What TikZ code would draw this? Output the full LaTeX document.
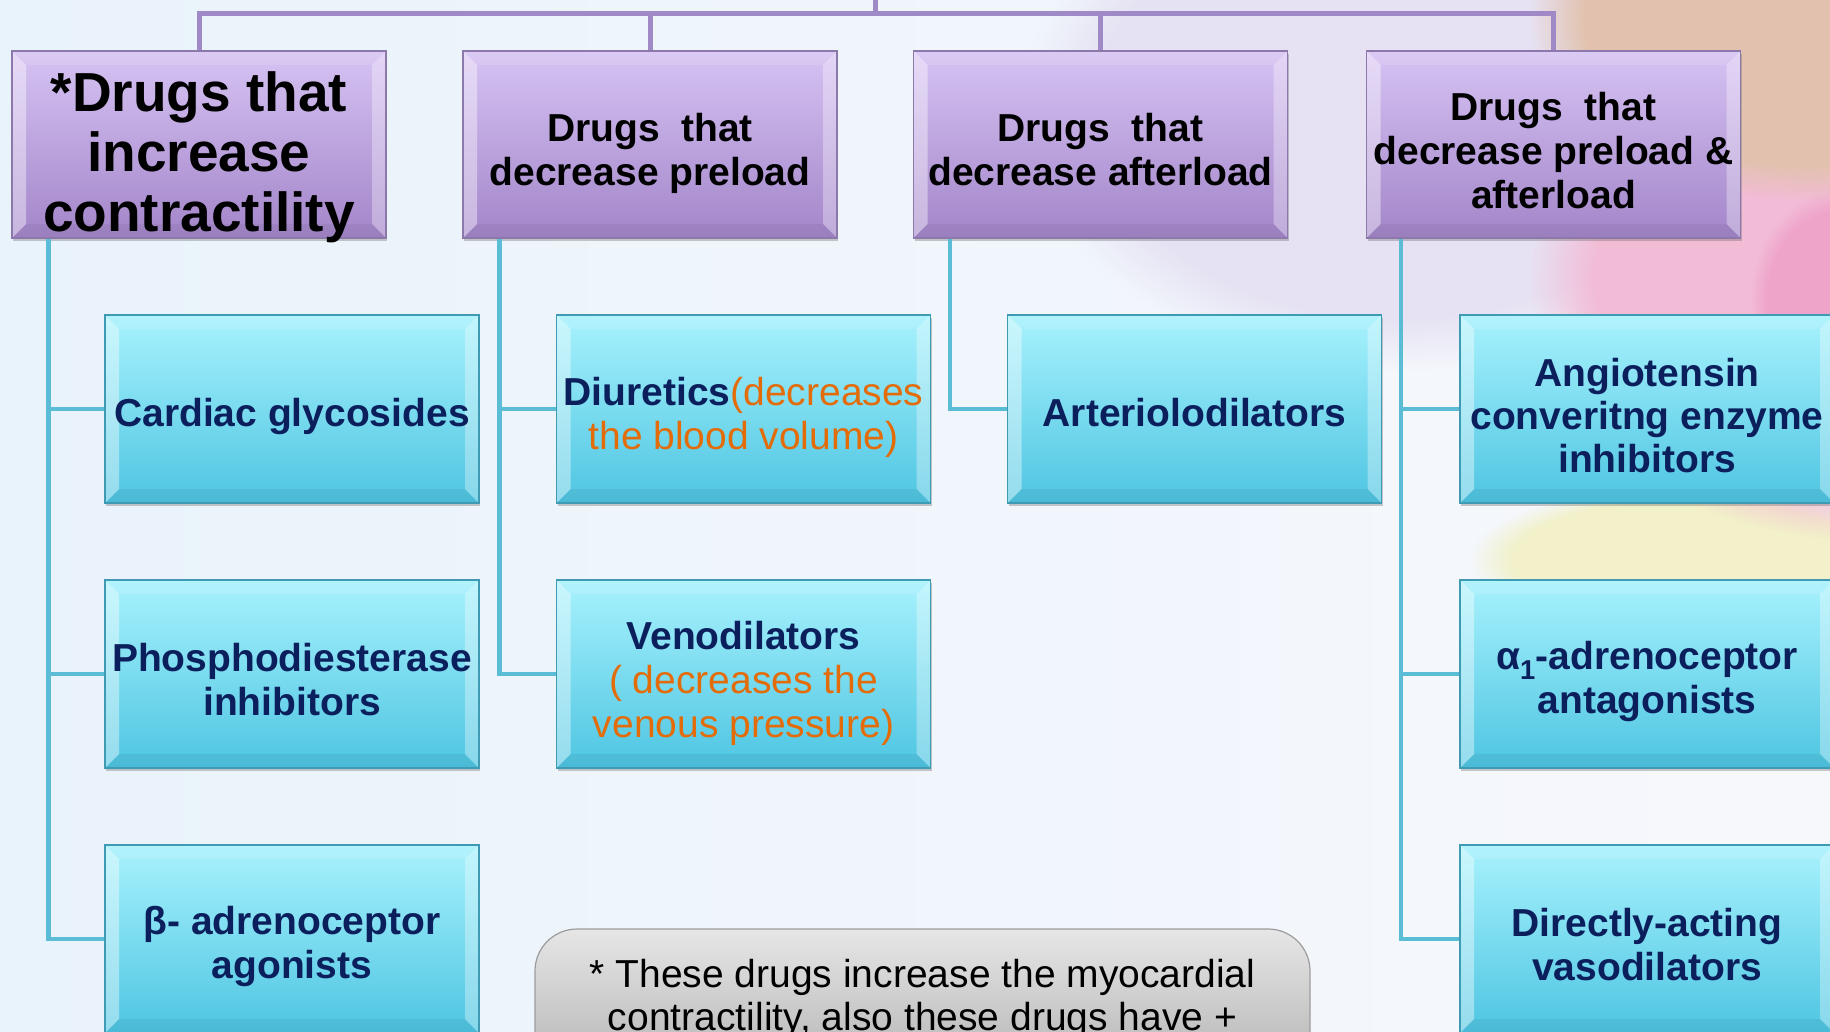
\documentclass[tikz,border=0pt]{standalone}
\usepackage{fontspec}
\setmainfont{Liberation Sans}
\usetikzlibrary{shadows,calc,fadings}
\definecolor{bgL}{HTML}{E9F3FB}
\definecolor{bgR}{HTML}{F7F8FC}
\definecolor{purTop}{HTML}{D6C3F3}
\definecolor{purBot}{HTML}{A385C9}
\definecolor{purEdge}{HTML}{8C78AA}
\definecolor{purLine}{HTML}{9F89C7}
\definecolor{cyTop}{HTML}{A8F2FD}
\definecolor{cyBot}{HTML}{4EC5E2}
\definecolor{cyEdge}{HTML}{3F9BB4}
\definecolor{cyLine}{HTML}{5BBCD6}
\definecolor{navy}{HTML}{0B1F5C}
\definecolor{orng}{HTML}{E36C09}
\definecolor{noteTop}{HTML}{E6E6E6}
\definecolor{noteBot}{HTML}{B2B2B2}
\definecolor{noteEdge}{HTML}{9C9C9C}
\definecolor{blobPink}{HTML}{F2BCD6}
\definecolor{blobPink2}{HTML}{EE9EC6}
\definecolor{blobPeach}{HTML}{E2C2AE}
\definecolor{blobLav}{HTML}{DCD2EC}
\definecolor{blobYel}{HTML}{F1EFB8}
\newcommand\lift[1]{\rule{0pt}{#1}}
\tikzset{
  bevel/.style={path picture={
    \fill[white,opacity=0.40] (path picture bounding box.north west) -- ([xshift=14pt,yshift=-14pt]path picture bounding box.north west) -- ([xshift=14pt,yshift=14pt]path picture bounding box.south west) -- (path picture bounding box.south west) -- cycle;
    \fill[white,opacity=0.32] (path picture bounding box.north east) -- ([xshift=-14pt,yshift=-14pt]path picture bounding box.north east) -- ([xshift=-14pt,yshift=14pt]path picture bounding box.south east) -- (path picture bounding box.south east) -- cycle;
    \fill[white,opacity=0.12] (path picture bounding box.north west) -- ([xshift=14pt,yshift=-14pt]path picture bounding box.north west) -- ([xshift=-14pt,yshift=-14pt]path picture bounding box.north east) -- (path picture bounding box.north east) -- cycle;
    \fill[black,opacity=0.05] (path picture bounding box.south west) -- ([xshift=14pt,yshift=14pt]path picture bounding box.south west) -- ([xshift=-14pt,yshift=14pt]path picture bounding box.south east) -- (path picture bounding box.south east) -- cycle;
  }},
  pbox/.style={draw=purEdge, line width=1.5pt, top color=purTop, bottom color=purBot, bevel,
    minimum width=374pt, minimum height=187pt, inner sep=0pt, align=center, text=black,
    drop shadow={shadow xshift=1pt, shadow yshift=-3pt, opacity=0.35, fill=black!60},
    font=\fontsize{39}{44}\selectfont\bfseries},
  cbox/.style={draw=cyEdge, line width=1.5pt, top color=cyTop, bottom color=cyBot, bevel,
    minimum width=374pt, minimum height=188pt, inner sep=0pt, align=center, text=navy,
    drop shadow={shadow xshift=1pt, shadow yshift=-3pt, opacity=0.35, fill=black!60},
    font=\fontsize{39}{44}\selectfont\bfseries},
  notebox/.style={draw=noteEdge, line width=1.2pt, top color=noteTop, bottom color=noteBot,
    rounded corners=42pt, minimum width=775pt, minimum height=150pt, inner sep=0pt, align=center,
    text=black, font=\fontsize{39}{43}\selectfont},
  pline/.style={draw=purLine, line width=5pt},
  cline/.style={draw=cyLine, line width=4.5pt},
}
\begin{document}
\begin{tikzpicture}[x=1pt,y=-1pt]
\useasboundingbox (0,0) rectangle (1830,1031);
\clip (0,0) rectangle (1830,1031);
% background
\shade[left color=bgL, right color=bgR] (0,0) rectangle (1830,1031);
\fill[blobLav, opacity=0.55, path fading=circle with fuzzy edge 20 percent] (1400,110) ellipse [x radius=380, y radius=260];
\fill[blobYel, opacity=0.75, path fading=circle with fuzzy edge 20 percent] (1690,560) ellipse [x radius=220, y radius=75];
\fill[blobPink, path fading=circle with fuzzy edge 20 percent] (1860,280) ellipse [x radius=330, y radius=260];
\fill[blobPeach, path fading=circle with fuzzy edge 20 percent] (1810,20) ellipse [x radius=280, y radius=180];
\fill[blobPink2, opacity=0.8, path fading=circle with fuzzy edge 20 percent] (1840,300) ellipse [x radius=90, y radius=110];

% top-level boxes
\node[pbox, font=\fontsize{55}{60}\selectfont\bfseries] (p1) at (199,144.5) {\raisebox{-21pt}[0pt][0pt]{\begin{tabular}{@{}c@{}}*Drugs that\\increase\\contractility\end{tabular}}};
\node[pbox] (p2) at (650,144.5) {\lift{47pt}Drugs~ that\\decrease preload};
\node[pbox] (p3) at (1100.5,144.5) {\lift{38pt}Drugs~ that\\decrease afterload};
\node[pbox] (p4) at (1553.5,144.5) {\lift{41pt}Drugs~ that\\decrease preload \&\\afterload};

% second-level boxes
\node[cbox] (c11) at (292,409) {\lift{43pt}Cardiac glycosides};
\node[cbox] (c12) at (292,674) {\lift{39pt}Phosphodiesterase\\inhibitors};
\node[cbox] (c13) at (292,939) {\lift{43pt}β- adrenoceptor\\agonists};
\node[cbox] (c21) at (743.5,409) {\lift{45pt}Diuretics\textcolor{orng}{\mdseries(decreases}\\\textcolor{orng}{\mdseries the blood volume)}};
\node[cbox] (c22) at (743.5,674) {\lift{47pt}Venodilators\\\textcolor{orng}{\mdseries( decreases the}\\\textcolor{orng}{\mdseries venous pressure)}};
\node[cbox] (c31) at (1194.5,409) {\lift{36pt}Arteriolodilators};
\node[cbox, font=\fontsize{39}{43}\selectfont\bfseries] (c41) at (1647,409) {\lift{41pt}Angiotensin\\converitng enzyme\\inhibitors};
\node[cbox] (c42) at (1647,674) {\lift{43pt}α\textsubscript{1}-adrenoceptor\\antagonists};
\node[cbox] (c43) at (1647,939) {\lift{39pt}Directly-acting\\vasodilators};

% note
\node[notebox] (note) at (922.5,1004) {* These drugs increase the myocardial\\contractility, also these drugs have +\rule[-18pt]{0pt}{0pt}};

% purple connectors
\coordinate (top) at (875,0);
\coordinate (topc) at (875,13);
\draw[pline] (p1.north) |- (topc) -| (p4.north);
\draw[pline] (p2.north) |- (topc);
\draw[pline] (p3.north) |- (topc);
\draw[pline] (top) -- (topc);

% cyan connectors
\coordinate (a1) at ([xshift=37pt]p1.south west);
\coordinate (a2) at ([xshift=37pt]p2.south west);
\coordinate (a3) at ([xshift=37pt]p3.south west);
\coordinate (a4) at ([xshift=35pt]p4.south west);
\draw[cline] (a1) |- (c13.west);
\draw[cline] (c11.west) -- (c11.west -| a1);
\draw[cline] (c12.west) -- (c12.west -| a1);
\draw[cline] (a2) |- (c22.west);
\draw[cline] (c21.west) -- (c21.west -| a2);
\draw[cline] (a3) |- (c31.west);
\draw[cline] (a4) |- (c43.west);
\draw[cline] (c41.west) -- (c41.west -| a4);
\draw[cline] (c42.west) -- (c42.west -| a4);
\end{tikzpicture}
\end{document}
